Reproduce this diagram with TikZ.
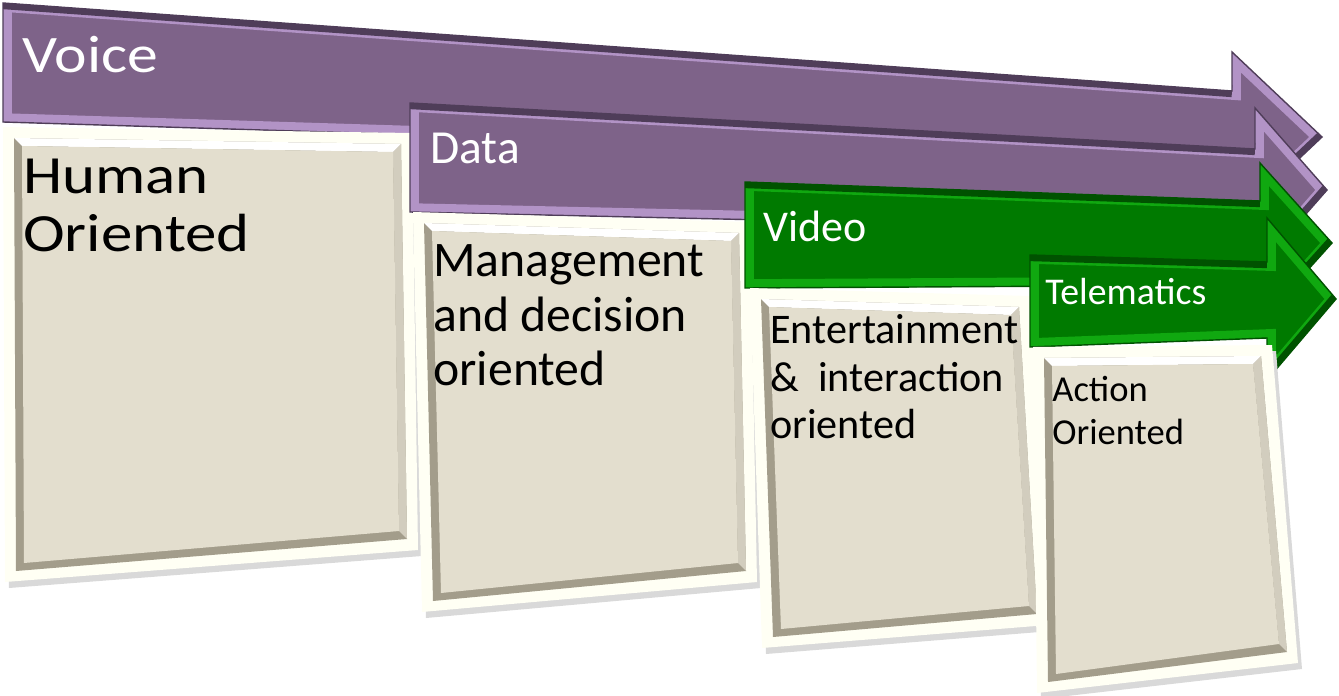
\documentclass[tikz,border=0pt]{standalone}
\usepackage{fontspec}
\setmainfont{Carlito}
\newfontfamily\widefont[FakeStretch=1.17]{Carlito}

\definecolor{purplebody}{HTML}{7E6389}
\definecolor{purplelight}{HTML}{B293C6}
\definecolor{purpledark}{HTML}{4F3D59}
\definecolor{greenbody}{HTML}{007A00}
\definecolor{greenlight}{HTML}{10A810}
\definecolor{greendark}{HTML}{005200}
\definecolor{panelrim}{HTML}{FFFFF4}
\definecolor{panelbevel}{HTML}{A39D8B}
\definecolor{panelside}{HTML}{D2CDBE}
\definecolor{panelface}{HTML}{E3DECE}

\tikzset{
  bandtext/.style={anchor=north west, inner sep=0pt, text=white, align=left},
  paneltext/.style={anchor=north west, inner sep=0pt, text=black, align=left}
}

% arrow band: left x, left top, left bottom, head x, shaft top, shaft bottom,
% head top, head bottom, tip x  (colours abody, alight, adark)
\newcommand{\bandarrow}[9]{%
  \begin{scope}
    \clip (#1,#2) -- (#4,#5) -- (#4,#7) -- (#9,{(#7+#8)/2}) -- (#4,#8) -- (#4,#6) -- (#1,#3) -- cycle;
    \fill[abody] (#1,#2) -- (#4,#5) -- (#4,#7) -- (#9,{(#7+#8)/2}) -- (#4,#8) -- (#4,#6) -- (#1,#3) -- cycle;
    \draw[alight, line width=10pt, line join=miter]
      (#1,#2) -- (#4,#5) -- (#4,#7) -- (#9,{(#7+#8)/2}) -- (#4,#8) -- (#4,#6) -- (#1,#3) -- cycle;
    \draw[adark, line width=7pt] (#1,#2) -- (#4,#5);
    \draw[adark, line width=7pt] (#9,{(#7+#8)/2}) -- (#4,#8);
  \end{scope}
  \draw[adark, line width=0.8pt, line join=miter]
    (#1,#2) -- (#4,#5) -- (#4,#7) -- (#9,{(#7+#8)/2}) -- (#4,#8) -- (#4,#6) -- (#1,#3) -- cycle;
}

% panel: four corners (top left, top right, bottom right, bottom left)
\newcommand{\panel}[8]{%
  \fill[black!15] ({#1+4},{#2+6}) -- ({#3+4},{#4+6}) -- ({#5+4},{#6+6}) -- ({#7+4},{#8+6}) -- cycle;
  \fill[panelrim] (#1,#2) -- (#3,#4) -- (#5,#6) -- (#7,#8) -- cycle;
  \fill[panelbevel] ({#1+11},{#2+11}) -- ({#3-11},{#4+11}) -- ({#5-11},{#6-11}) -- ({#7+11},{#8-11}) -- cycle;
  \fill[white] ({#1+11},{#2+11}) -- ({#3-11},{#4+11}) -- ({#3-19},{#4+19}) -- ({#1+19},{#2+19}) -- cycle;
  \fill[panelside] ({#3-11},{#4+11}) -- ({#5-11},{#6-11}) -- ({#5-19},{#6-19}) -- ({#3-19},{#4+19}) -- cycle;
  \fill[panelface] ({#1+19},{#2+19}) -- ({#3-19},{#4+19}) -- ({#5-19},{#6-19}) -- ({#7+19},{#8-19}) -- cycle;
}

\begin{document}
\begin{tikzpicture}[x=0.02cm, y=-0.02cm]
    \useasboundingbox (0,0) rectangle (1339,696);

    % voice
    \colorlet{abody}{purplebody}\colorlet{alight}{purplelight}\colorlet{adark}{purpledark}
    \bandarrow{3}{3}{122}{1232}{91}{160}{52}{222}{1322}
    \panel{3}{127}{412}{133}{418}{550}{5}{582}
    \node[bandtext, font=\widefont\fontsize{30}{33}\selectfont] (voice) at (22,36) {Voice};
    \node[paneltext, font=\widefont\fontsize{30.6}{32.9}\selectfont] (human) at (23,159) {Human\\Oriented};

    % data
    \bandarrow{410}{103}{212}{1255}{149}{231}{108}{272}{1327}
    \panel{413}{212}{750}{222}{757}{582}{422}{612}
    \node[bandtext, font=\fontsize{27}{30}\selectfont] (data) at (430,133) {Data};
    \node[paneltext, font=\fontsize{28.3}{31.2}\selectfont] (manage) at (433,244) {Management\\and decision\\oriented};

    % video
    \colorlet{abody}{greenbody}\colorlet{alight}{greenlight}\colorlet{adark}{greendark}
    \bandarrow{745}{182}{288}{1260}{201}{285}{163}{323}{1332}
    \panel{750}{288}{1030}{296}{1048}{625}{762}{648}
    \node[bandtext, font=\fontsize{25}{28}\selectfont] (video) at (763,211) {Video};
    \node[paneltext, font=\fontsize{24}{27.2}\selectfont] (enter) at (770,314) {Entertainment\\\&\ \ interaction\\oriented};

    % telematics
    \bandarrow{1030}{255}{347}{1267}{262}{338}{218}{380}{1336}
    \panel{1033}{347}{1272}{345}{1298}{663}{1037}{693}
    \node[bandtext, font=\fontsize{21.5}{24}\selectfont] (tele) at (1045,278) {Telematics};
    \node[paneltext, font=\fontsize{20.8}{24.4}\selectfont] (action) at (1052,376) {Action\\Oriented};
\end{tikzpicture}
\end{document}
